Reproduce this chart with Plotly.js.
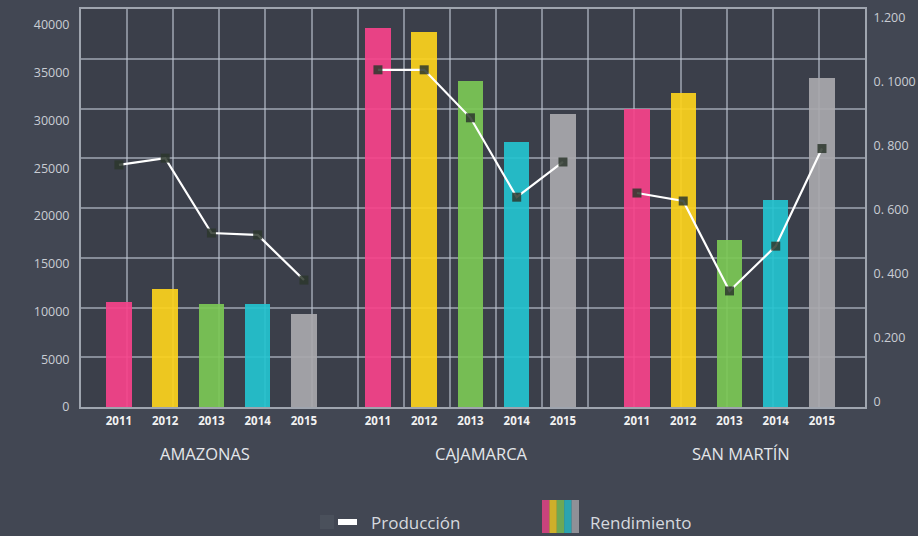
<!DOCTYPE html>
<html>
<head>
<meta charset="utf-8">
<script src="https://cdn.plot.ly/plotly-3.0.1.min.js"></script>
<style>
  html, body { margin: 0; padding: 0; background: #424753; }
  #chart { width: 918px; height: 536px; }
</style>
</head>
<body>
<div id="chart"></div>
<script>
// ---- data ----
const regions = ['AMAZONAS', 'CAJAMARCA', 'SAN MARTÍN'];
const years = ['2011', '2012', '2013', '2014', '2015'];

// Rendimiento (bars, left axis)
const rendAmazonas  = [11000, 12400, 10800, 10800, 9700];
const rendCajamarca = [39700, 39300, 34100, 27700, 30700];
const rendSanMartin = [31200, 32900, 17500, 21700, 34400];

// Producción (line, right axis)
const prodAmazonas  = [0.741, 0.762, 0.528, 0.522, 0.381];
const prodCajamarca = [1.038, 1.038, 0.888, 0.640, 0.750];
const prodSanMartin = [0.653, 0.628, 0.347, 0.487, 0.792];

const rightTickVals = [0, 0.2, 0.4, 0.6, 0.8, 1.0, 1.2];
const rightTickText = ['0', '0.200', '0. 400', '0. 600', '0. 800', '0. 1000', '1.200'];

const yearColors = ['#f7428a', '#fdd21c', '#7cc855', '#24c3cf', '#a9a8ad'];

// ---- build ----
const FONT = '"Open Sans", sans-serif';
const groupStep = 5.6;
const labelShift = [-0.14, 0.23, 0.25];
const rendAll = [rendAmazonas, rendCajamarca, rendSanMartin];
const prodAll = [prodAmazonas, prodCajamarca, prodSanMartin];

const xs = [], ys = [], cols = [], tickVals = [], tickText = [];
regions.forEach((r, g) => {
  years.forEach((yr, i) => {
    const x = g * groupStep + i;
    xs.push(x); ys.push(rendAll[g][i]); cols.push(yearColors[i]);
    tickVals.push(x); tickText.push('<b>' + yr + '</b>');
  });
});

const traces = [];
traces.push({
  type: 'bar', x: xs, y: ys, width: 0.55,
  marker: { color: cols, opacity: 0.92, line: { width: 0 } },
  name: 'Rendimiento', showlegend: false, hoverinfo: 'y'
});
regions.forEach((r, g) => {
  traces.push({
    type: 'scatter', mode: 'lines+markers', yaxis: 'y2',
    x: years.map((yr, i) => g * groupStep + i),
    y: prodAll[g],
    line: { color: '#ffffff', width: 2.2 },
    marker: { symbol: 'square', size: 9, color: 'rgba(45,55,45,0.85)', line: { width: 0 } },
    name: 'Producción', showlegend: false
  });
});
// dummy trace for decorative grid axes
traces.push({ type: 'scatter', x: [null], y: [null], xaxis: 'x2', yaxis: 'y3', showlegend: false, hoverinfo: 'skip' });

const L = 81, R = 865, T = 9, B = 407;
const W = R - L, H = B - T;
const px = v => (v - L) / W;
const py = v => (B - v) / H;

const gridCol = 'rgba(190,196,208,0.58)';
const annotations = regions.map((r, g) => ({
  text: r, xref: 'x', yref: 'paper', x: g * groupStep + 2 + labelShift[g], y: py(453),
  showarrow: false, xanchor: 'center', yanchor: 'middle',
  font: { family: FONT, size: 16.5, color: '#e4e6ea' }
}));
annotations.push({
  text: 'Producción', xref: 'paper', yref: 'paper', x: px(369), y: py(522),
  showarrow: false, xanchor: 'left', yanchor: 'middle',
  font: { family: FONT, size: 17, color: '#d6d9df' }
});
annotations.push({
  text: 'Rendimiento', xref: 'paper', yref: 'paper', x: px(588), y: py(522),
  showarrow: false, xanchor: 'left', yanchor: 'middle',
  font: { family: FONT, size: 17, color: '#d6d9df' }
});

const shapes = [];
// Producción legend icon
shapes.push({ type: 'rect', xref: 'paper', yref: 'paper', x0: px(320), x1: px(334), y0: py(515), y1: py(529),
  fillcolor: 'rgba(90,96,106,0.35)', line: { width: 0 } });
shapes.push({ type: 'line', xref: 'paper', yref: 'paper', x0: px(338), x1: px(357), y0: py(522), y1: py(522),
  line: { color: '#ffffff', width: 6 } });
// Rendimiento legend icon
yearColors.forEach((c, i) => {
  shapes.push({ type: 'rect', xref: 'paper', yref: 'paper',
    x0: px(542 + i * 7.4), x1: px(542 + (i + 1) * 7.4), y0: py(533), y1: py(500),
    fillcolor: c, opacity: 0.75, line: { width: 0 } });
});

const layout = {
  width: 918, height: 536,
  margin: { l: L, r: 918 - R, t: T, b: 536 - B },
  paper_bgcolor: '#424753',
  plot_bgcolor: '#3b3f4a',
  showlegend: false,
  bargap: 0,
  xaxis: {
    range: [-0.82, 16.13], tickvals: tickVals, ticktext: tickText,
    showgrid: false, zeroline: false, showline: false,
    ticks: 'outside', ticklen: 3, tickcolor: 'rgba(0,0,0,0)',
    tickfont: { family: FONT, size: 11.5, color: '#f2f2f2' }
  },
  yaxis: {
    range: [0, 41670], dtick: 5000, tickformat: 'd',
    showgrid: false, zeroline: false, showline: false,
    ticks: 'outside', ticklen: 8, tickcolor: 'rgba(0,0,0,0)',
    tickfont: { family: FONT, size: 12.5, color: '#c9cdd4' }
  },
  yaxis2: {
    overlaying: 'y', side: 'right', range: [-0.0156, 1.228],
    tickvals: rightTickVals, ticktext: rightTickText,
    showgrid: false, zeroline: false, showline: false,
    ticks: 'outside', ticklen: 5, tickcolor: 'rgba(0,0,0,0)',
    tickfont: { family: FONT, size: 12.5, color: '#c9cdd4' }
  },
  xaxis2: {
    overlaying: 'x', anchor: 'y3', range: [0, 17], dtick: 1, tick0: 0,
    showgrid: true, gridcolor: gridCol, gridwidth: 2,
    showline: true, mirror: true, linecolor: 'rgba(200,205,215,0.7)', linewidth: 2,
    zeroline: false, showticklabels: false, ticks: ''
  },
  yaxis3: {
    overlaying: 'y', anchor: 'x2', range: [0, 8], dtick: 1, tick0: 0,
    showgrid: true, gridcolor: gridCol, gridwidth: 2,
    showline: true, mirror: true, linecolor: 'rgba(200,205,215,0.7)', linewidth: 2,
    zeroline: false, showticklabels: false, ticks: ''
  },
  annotations: annotations,
  shapes: shapes
};

Plotly.newPlot('chart', traces, layout, { displayModeBar: false, staticPlot: true });
</script>
</body>
</html>
